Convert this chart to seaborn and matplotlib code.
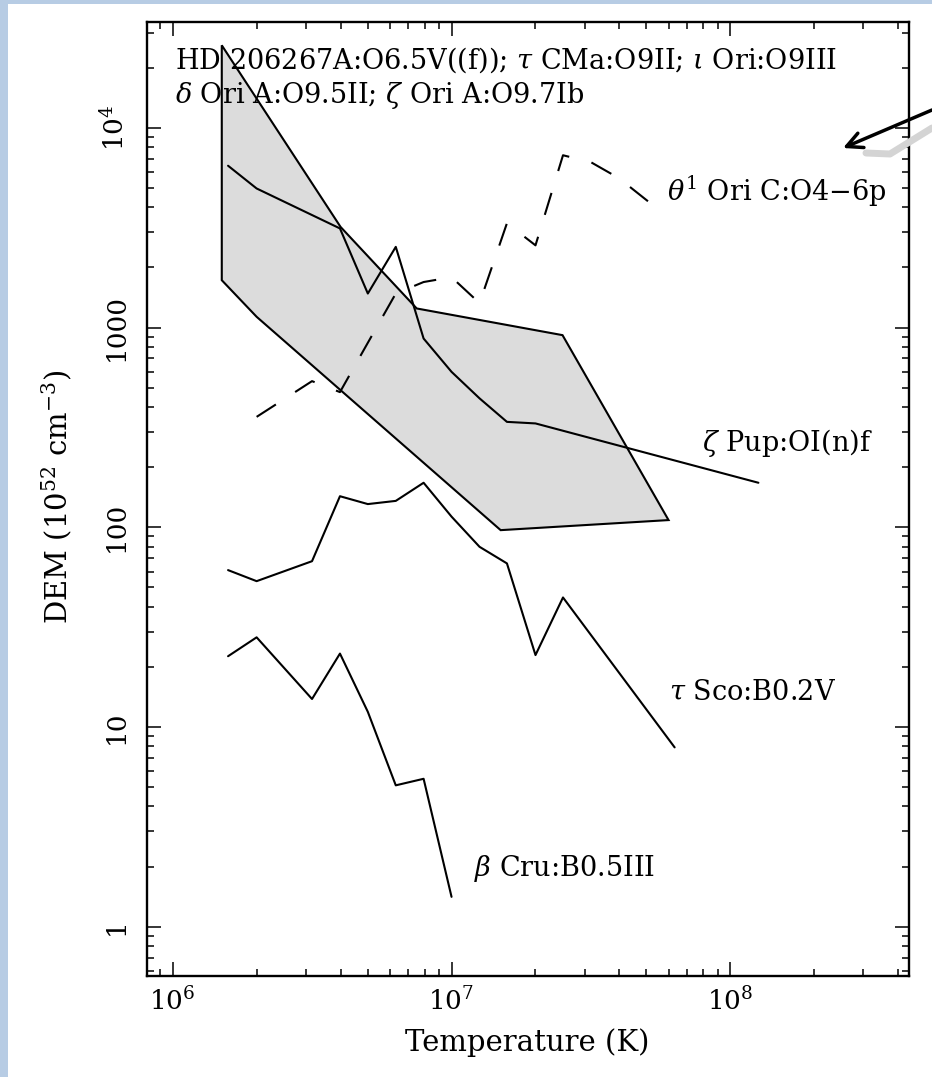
import numpy as np
import pandas as pd
import matplotlib
matplotlib.use("Agg")
import matplotlib.pyplot as plt
from matplotlib.patches import Rectangle
from matplotlib.ticker import FixedLocator, FixedFormatter, LogLocator, NullFormatter
import seaborn as sns

# Differential emission measure of O and early B stars vs. plasma temperature
# Temperatures (K) on the standard 0.1-dex grid
theta1_T = [2.0e6, 2.51e6, 3.16e6, 3.98e6, 5.01e6, 6.31e6, 7.94e6, 1.0e7, 1.26e7,
            1.58e7, 2.0e7, 2.51e7, 3.16e7, 3.98e7, 5.62e7]
theta1_DEM = [357, 438, 539, 475, 839, 1480, 1690, 1787, 1325,
              3330, 2580, 7290, 6730, 5600, 3820]

zpup_T = [1.58e6, 2.0e6, 3.98e6, 5.01e6, 6.31e6, 7.94e6, 1.0e7, 1.26e7, 1.58e7, 2.0e7, 1.26e8]
zpup_DEM = [6460, 4970, 3135, 1480, 2535, 881, 600, 442, 337, 331, 167]

tsco_T = [1.58e6, 2.0e6, 3.16e6, 3.98e6, 5.01e6, 6.31e6, 7.94e6, 1.0e7, 1.26e7,
          1.58e7, 2.0e7, 2.51e7, 6.31e7]
tsco_DEM = [61, 53.7, 67.6, 143, 130.6, 135.5, 167, 113, 79.8, 65.9, 22.9, 44.5, 7.9]

bcru_T = [1.58e6, 2.0e6, 3.16e6, 3.98e6, 5.01e6, 6.31e6, 7.94e6, 1.0e7]
bcru_DEM = [22.6, 28.1, 13.8, 23.3, 11.9, 5.1, 5.5, 1.41]

# Envelope of the five O stars listed in the header
band_T = [1.5e6, 4.0e6, 7.5e6, 2.5e7, 6.0e7, 1.5e7, 2.0e6, 1.5e6]
band_DEM = [25900, 3190, 1246, 916, 108.6, 96.7, 1132, 1726]

ytick_vals = [1, 10, 100, 1000, 1e4]
ytick_labels = ["1", "10", "100", "1000", "10$^4$"]
xtick_vals = [1e6, 1e7, 1e8]
xtick_labels = ["10$^6$", "10$^7$", "10$^8$"]

header = ["HD 206267A:O6.5V((f)); $\\tau$ CMa:O9II; $\\iota$ Ori:O9III",
          "$\\delta$ Ori A:O9.5II; $\\zeta$ Ori A:O9.7Ib"]
curve_labels = ["$\\theta^{\\rm 1}$ Ori C:O4\u22126p", "$\\zeta$ Pup:OI(n)f",
                "$\\tau$ Sco:B0.2V", "$\\beta$ Cru:B0.5III"]
curve_label_pos = [(5.9e7, 4800), (7.9e7, 264), (6.0e7, 14.9), (1.2e7, 1.95)]

sns.set_theme(style="ticks")
plt.rcParams["font.family"] = ["DejaVu Serif"]
plt.rcParams["mathtext.fontset"] = "dejavuserif"
plt.rcParams["text.color"] = "black"
plt.rcParams["axes.labelcolor"] = "black"
plt.rcParams["xtick.color"] = "black"
plt.rcParams["ytick.color"] = "black"

W, H = 932, 1077
fig = plt.figure(figsize=(W / 100, H / 100), dpi=100)
fig.patch.set_facecolor("white")

# page frame
frame_col = "#b7cce4"
fig.patches.append(Rectangle((0, 0), 8 / W, 1, transform=fig.transFigure,
                             facecolor=frame_col, edgecolor="none", zorder=0))
fig.patches.append(Rectangle((0, 1 - 4 / H), 1, 4 / H, transform=fig.transFigure,
                             facecolor=frame_col, edgecolor="none", zorder=0))

ax = fig.add_axes([146.7 / W, 1 - 976 / H, (909.3 - 146.7) / W, (976 - 21.7) / H])
ax.set_facecolor("white")
ax.set_xscale("log")
ax.set_yscale("log")

ax.fill(band_T, band_DEM, facecolor="#dcdcdc", edgecolor="black", lw=1.5, zorder=1)

lw = 1.5
sns.lineplot(x=theta1_T, y=theta1_DEM, ax=ax, color="black", lw=lw, sort=False,
             estimator=None, linestyle=(0, (11, 11)), zorder=3)
for tx, dy in [(zpup_T, zpup_DEM), (tsco_T, tsco_DEM), (bcru_T, bcru_DEM)]:
    sns.lineplot(x=tx, y=dy, ax=ax, color="black", lw=lw, sort=False,
                 estimator=None, zorder=3)

ax.set_xlim(8.07e5, 4.38e8)
ax.set_ylim(0.566, 3.4e4)

for sp in ax.spines.values():
    sp.set_linewidth(1.7)
    sp.set_color("black")

ax.xaxis.set_major_locator(FixedLocator(xtick_vals))
ax.xaxis.set_major_formatter(FixedFormatter(xtick_labels))
ax.yaxis.set_major_locator(FixedLocator(ytick_vals))
ax.yaxis.set_major_formatter(FixedFormatter(ytick_labels))
for axis in (ax.xaxis, ax.yaxis):
    axis.set_minor_locator(LogLocator(base=10, subs=np.arange(2, 10), numticks=20))
    axis.set_minor_formatter(NullFormatter())

ax.tick_params(which="both", direction="in", top=True, right=True, color="black",
               width=1.1, labelcolor="black")
ax.tick_params(which="major", length=10)
ax.tick_params(which="minor", length=5)
ax.tick_params(axis="x", which="major", labelsize=19, pad=8)
ax.tick_params(axis="y", which="major", labelsize=19, pad=13, labelrotation=90)
for lab in ax.get_yticklabels():
    lab.set_verticalalignment("center")

fig.text(57 / W, 1 - 497 / H, "DEM (10$^{52}$ cm$^{-3}$)", rotation=90,
         ha="center", va="center", fontsize=21)
fig.text(527 / W, 1 - 1043 / H, "Temperature (K)", ha="center", va="center",
         fontsize=21)

ax.text(0.037, 0.960, header[0], transform=ax.transAxes, ha="left", va="center",
        fontsize=19.5)
ax.text(0.037, 0.923, header[1], transform=ax.transAxes, ha="left", va="center",
        fontsize=19.5)

for s, (px, py) in zip(curve_labels, curve_label_pos):
    ax.text(px, py, s, ha="left", va="center", fontsize=19.5, zorder=4)

# pointer from outside the frame
fig.add_artist(plt.Line2D([866 / W, 890 / W, 1.0],
                          [1 - 153 / H, 1 - 154 / H, 1 - 128 / H],
                          transform=fig.transFigure, color="#d4d4d4", lw=5,
                          solid_capstyle="round", zorder=5))
ax.annotate("", xy=(843 / W, 1 - 148 / H), xycoords="figure fraction",
            xytext=(1.0, 1 - 110 / H), textcoords="figure fraction",
            arrowprops=dict(arrowstyle="->", lw=2.5, color="black",
                            mutation_scale=28, shrinkA=0, shrinkB=0),
            annotation_clip=False, zorder=6)

fig.savefig("out.png", dpi=100, facecolor=fig.get_facecolor())
